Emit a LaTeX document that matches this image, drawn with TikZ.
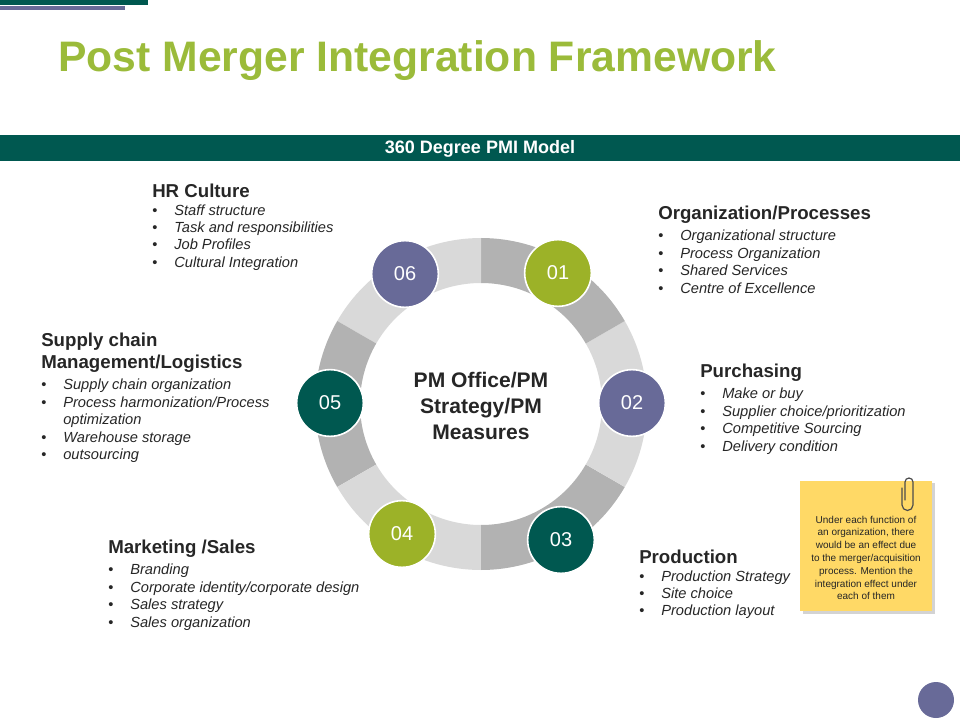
\documentclass[tikz,border=0pt]{standalone}
\usepackage{fontspec}
\setmainfont{Liberation Sans}
\usetikzlibrary{positioning,calc,shadows}
\definecolor{tealOscuro}{RGB}{0,88,80}
\definecolor{moradoAzul}{RGB}{104,106,152}
\definecolor{oliva}{RGB}{156,178,40}
\definecolor{tituloVerde}{RGB}{155,187,58}
\definecolor{grisClaro}{RGB}{217,217,217}
\definecolor{grisMedio}{RGB}{178,178,178}
\definecolor{textoGris}{RGB}{38,38,38}
\definecolor{notaAmarilla}{RGB}{255,217,102}
\tikzset{
  numdot/.style={circle, draw=white, line width=1.2pt, minimum size=50pt,
                 inner sep=0pt, text=white, font=\fontsize{15}{15}\selectfont},
  heading/.style={anchor=west, inner sep=0pt, text=textoGris,
                  font=\bfseries\fontsize{14}{15}\selectfont},
  items/.style={anchor=north west, inner sep=0pt, align=left, text=textoGris,
                font=\itshape\fontsize{11}{13.1}\selectfont}
}
\newcommand{\bul}{\makebox[16.5pt][l]{\upshape\textbullet}}
\begin{document}
\begin{tikzpicture}[x=0.75pt,y=-0.75pt]
  \useasboundingbox (0,0) rectangle (960,720);
  % corner bars
  \fill[tealOscuro] (0,0) rectangle (148,5);
  \fill[moradoAzul] (0,6) rectangle (125,10);
  % title and banner
  \node[anchor=west, inner sep=0pt, text=tituloVerde,
        font=\bfseries\fontsize{32}{34}\selectfont] (titulo) at (58,61)
        {Post Merger Integration Framework};
  \fill[tealOscuro] (0,135) rectangle (960,161);
  \node[text=white, font=\bfseries\fontsize{13.5}{14}\selectfont] (banner) at (480,149)
        {360 Degree PMI Model};
  % ring
  \foreach \a/\c in {0/grisClaro,30/grisMedio,60/grisMedio,90/grisClaro,
                     120/grisClaro,150/grisMedio,180/grisMedio,210/grisClaro,
                     240/grisClaro,270/grisMedio,300/grisMedio,330/grisClaro}
    \fill[\c] ($(481,404)+(\a:166 and -166)$) arc[start angle=\a, delta angle=30, x radius=166, y radius=-166]
      -- ($(481,404)+(\a+30:121 and -121)$) arc[start angle=\a+30, delta angle=-30, x radius=121, y radius=-121] -- cycle;
  \node[text=textoGris, align=center, font=\bfseries\fontsize{15.8}{19.5}\selectfont] (centro)
        at (481,406) {PM Office/PM\\Strategy/PM\\Measures};
  % numbered dots
  \node[numdot, fill=oliva]       (n1) at (558,273) {01};
  \node[numdot, fill=moradoAzul]  (n2) at (632,403) {02};
  \node[numdot, fill=tealOscuro]  (n3) at (561,540) {03};
  \node[numdot, fill=oliva]       (n4) at (402,534) {04};
  \node[numdot, fill=tealOscuro]  (n5) at (330,403) {05};
  \node[numdot, fill=moradoAzul]  (n6) at (405,274) {06};
  % text blocks
  \node[heading] (hrhead) at (152,191) {HR Culture};
  \node[items] (hrlist) at ($(hrhead.south west)+(0,6)$)
    {\bul Staff structure\\\bul Task and responsibilities\\\bul Job Profiles\\\bul Cultural Integration};
  \node[heading] (orghead) at (658,215) {Organization/Processes};
  \node[items] (orglist) at ($(orghead.south west)+(0,6)$)
    {\bul Organizational structure\\\bul Process Organization\\\bul Shared Services\\\bul Centre of Excellence};
  \node[heading, align=left, font=\bfseries\fontsize{14}{16.5}\selectfont] (schead) at (41,353)
    {Supply chain\\Management/Logistics};
  \node[items] (sclist) at ($(schead.south west)+(0,6)$)
    {\bul Supply chain organization\\\bul Process harmonization/Process\\\hspace*{16.5pt}optimization\\\bul Warehouse storage\\\bul outsourcing};
  \node[heading] (purhead) at (700,373) {Purchasing};
  \node[items] (purlist) at ($(purhead.south west)+(0,6)$)
    {\bul Make or buy\\\bul Supplier choice/prioritization\\\bul Competitive Sourcing\\\bul Delivery condition};
  \node[heading] (mkhead) at (108,549) {Marketing /Sales};
  \node[items] (mklist) at ($(mkhead.south west)+(0,6)$)
    {\bul Branding\\\bul Corporate identity/corporate design\\\bul Sales strategy\\\bul Sales organization};
  \node[heading] (prhead) at (639,557) {Production};
  \node[items] (prlist) at ($(prhead.south west)+(0,6)$)
    {\bul Production Strategy\\\bul Site choice\\\bul Production layout};
  % sticky note
  \node[fill=notaAmarilla, minimum width=99pt, minimum height=98pt, inner sep=0pt,
        drop shadow={opacity=0.35, shadow xshift=2pt, shadow yshift=-2pt}] (nota) at (866,546) {};
  \node[align=center, font=\fontsize{7.5}{9.6}\selectfont, text=textoGris] (notatexto) at (866,558)
    {Under each function of\\an organization, there\\would be an effect due\\to the merger/acquisition\\process. Mention the\\integration effect under\\each of them};
  \draw[black!70, line width=0.9pt, line cap=round]
    (905,500) -- (905,482) arc[start angle=180, end angle=360, radius=4]
    -- (913,505) arc[start angle=0, end angle=180, radius=5.5] -- (902,488);
  % page dot
  \fill[moradoAzul] (936,700) circle[radius=18];
\end{tikzpicture}
\end{document}
